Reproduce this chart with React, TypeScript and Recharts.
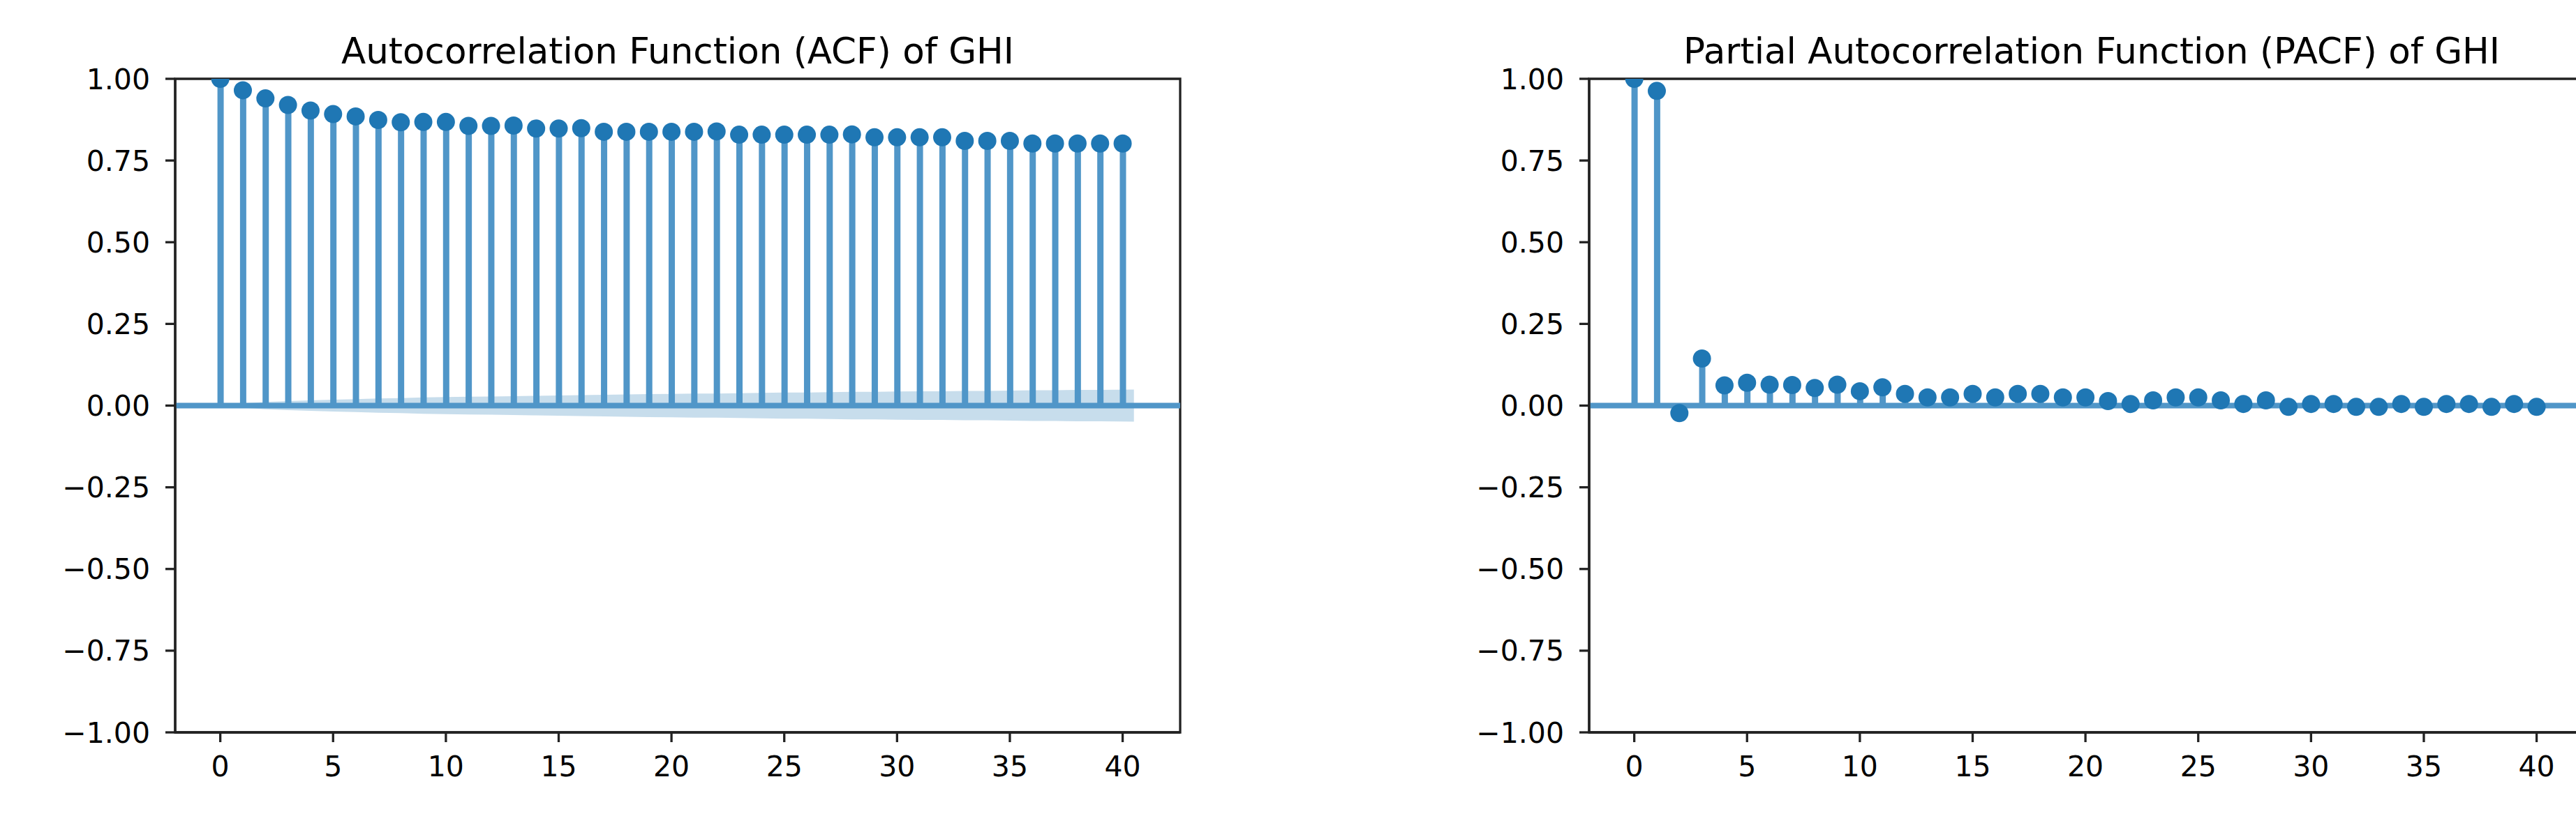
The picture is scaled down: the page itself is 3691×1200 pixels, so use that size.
import React from 'react';
import {
  ComposedChart,
  Bar,
  Scatter,
  Area,
  XAxis,
  YAxis,
  ReferenceLine,
  ReferenceArea,
} from 'recharts';

// ---------- data ----------
const LAGS = [
  0, 1, 2, 3, 4, 5, 6, 7, 8, 9, 10, 11, 12, 13, 14, 15, 16, 17, 18, 19, 20,
  21, 22, 23, 24, 25, 26, 27, 28, 29, 30, 31, 32, 33, 34, 35, 36, 37, 38, 39, 40,
];

const ACF_VALUES = [
  1.0, 0.965, 0.94, 0.92, 0.903, 0.892, 0.885, 0.874, 0.867, 0.868, 0.868,
  0.856, 0.856, 0.857, 0.848, 0.848, 0.849, 0.838, 0.838, 0.838, 0.838,
  0.838, 0.839, 0.829, 0.829, 0.829, 0.829, 0.829, 0.83, 0.821, 0.821,
  0.821, 0.821, 0.81, 0.81, 0.81, 0.802, 0.802, 0.802, 0.802, 0.802,
];

// half-width of the shaded 95% confidence band (ACF)
const ACF_CONF = [
  0.0, 0.0065, 0.011, 0.014, 0.016, 0.018, 0.02, 0.022, 0.023, 0.025, 0.026,
  0.027, 0.028, 0.029, 0.03, 0.031, 0.032, 0.033, 0.034, 0.035, 0.036,
  0.037, 0.037, 0.038, 0.039, 0.04, 0.04, 0.041, 0.042, 0.042, 0.043,
  0.044, 0.044, 0.045, 0.045, 0.046, 0.047, 0.047, 0.048, 0.048, 0.049,
];

const PACF_VALUES = [
  1.0, 0.963, -0.023, 0.144, 0.062, 0.07, 0.064, 0.063, 0.054, 0.064, 0.044,
  0.056, 0.036, 0.025, 0.025, 0.036, 0.025, 0.036, 0.036, 0.025, 0.025,
  0.014, 0.005, 0.016, 0.025, 0.025, 0.016, 0.005, 0.016, -0.004, 0.005,
  0.005, -0.004, -0.004, 0.005, -0.004, 0.005, 0.005, -0.004, 0.005, -0.004,
];

// half-width of the shaded 95% confidence band (PACF)
const PACF_CONF = [
  0.0, 0.0065, 0.0065, 0.0065, 0.0065, 0.0065, 0.0065, 0.0065, 0.0065, 0.0065,
  0.0065, 0.0065, 0.0065, 0.0065, 0.0065, 0.0065, 0.0065, 0.0065, 0.0065,
  0.0065, 0.0065, 0.0065, 0.0065, 0.0065, 0.0065, 0.0065, 0.0065, 0.0065,
  0.0065, 0.0065, 0.0065, 0.0065, 0.0065, 0.0065, 0.0065, 0.0065, 0.0065,
  0.0065, 0.0065, 0.0065, 0.0065,
];

const X_TICKS = [0, 5, 10, 15, 20, 25, 30, 35, 40];
const Y_TICKS = [-1, -0.75, -0.5, -0.25, 0, 0.25, 0.5, 0.75, 1];

const ACF_TITLE = 'Autocorrelation Function (ACF) of GHI';
const PACF_TITLE = 'Partial Autocorrelation Function (PACF) of GHI';

// ---------- styling ----------
const X_DOMAIN: [number, number] = [-2.0, 42.55];
const Y_DOMAIN: [number, number] = [-1, 1];
const C0 = '#1f77b4';
const STEM = '#5096c8';
const SPINE = '#222222';
const FONT = 'DejaVu Sans';

const CHART_W = 1800;
const CHART_H = 1200;
const MARGIN = { top: 113, right: 109, left: 0, bottom: 0 };
const Y_AXIS_W = 251;
const X_AXIS_H = 150;

const fmtY = (v: number) => (v < 0 ? '\u2212' : '') + Math.abs(v).toFixed(2);

function CorrPanel({ values, conf }: { values: number[]; conf: number[] }) {
  const points = LAGS.map((lag, i) => ({ lag, value: values[i] }));
  const last = LAGS.length - 1;
  const band = LAGS.map((lag, i) => ({
    lag: i === 0 ? lag - 0.5 : i === last ? lag + 0.5 : lag,
    band: [-conf[i], conf[i]],
  }));
  const tickStyle = { fontFamily: FONT, fontSize: 41, fill: '#000' };
  return (
    <ComposedChart
      width={CHART_W}
      height={CHART_H}
      data={points}
      margin={MARGIN}
      style={{ fontFamily: FONT }}
    >
      <XAxis
        dataKey="lag"
        type="number"
        domain={X_DOMAIN}
        allowDataOverflow
        ticks={X_TICKS}
        interval={0}
        height={X_AXIS_H}
        tick={tickStyle}
        tickSize={14}
        tickMargin={20}
        axisLine={{ stroke: SPINE, strokeWidth: 3.3 }}
        tickLine={{ stroke: SPINE, strokeWidth: 3.3 }}
      />
      <YAxis
        type="number"
        domain={Y_DOMAIN}
        allowDataOverflow
        ticks={Y_TICKS}
        interval={0}
        width={Y_AXIS_W}
        tick={tickStyle}
        tickFormatter={fmtY}
        tickSize={14}
        tickMargin={22}
        axisLine={{ stroke: SPINE, strokeWidth: 3.3 }}
        tickLine={{ stroke: SPINE, strokeWidth: 3.3 }}
      />
      <Area
        data={band}
        dataKey="band"
        type="linear"
        stroke="none"
        fill={C0}
        fillOpacity={0.25}
        isAnimationActive={false}
        activeDot={false}
        dot={false}
      />
      <ReferenceLine y={0} stroke={STEM} strokeWidth={8} />
      <Bar dataKey="value" barSize={9} fill={STEM} isAnimationActive={false} />
      <Scatter
        dataKey="value"
        fill={C0}
        isAnimationActive={false}
        shape={(p: any) => <circle cx={p.cx} cy={p.cy} r={13} fill={C0} />}
      />
      <ReferenceArea
        x1={X_DOMAIN[0]}
        x2={X_DOMAIN[1]}
        y1={Y_DOMAIN[0]}
        y2={Y_DOMAIN[1]}
        fill="none"
        fillOpacity={0}
        stroke={SPINE}
        strokeWidth={3.3}
      />
    </ComposedChart>
  );
}

const titleStyle = (left: number): React.CSSProperties => ({
  position: 'absolute',
  left,
  top: 48,
  width: 1440,
  textAlign: 'center',
  fontFamily: FONT,
  fontSize: 51.5,
  lineHeight: '50px',
  color: '#000',
  whiteSpace: 'nowrap',
});

export default function App() {
  const rightOffset = 2026;
  return (
    <div
      style={{
        position: 'absolute',
        left: 0,
        top: 0,
        width: 3691,
        height: 1200,
        overflow: 'hidden',
        background: '#fff',
      }}
    >
      <div style={{ position: 'absolute', left: 0, top: 0 }}>
        <CorrPanel values={ACF_VALUES} conf={ACF_CONF} />
      </div>
      <div style={{ position: 'absolute', left: rightOffset, top: 0 }}>
        <CorrPanel values={PACF_VALUES} conf={PACF_CONF} />
      </div>
      <div style={titleStyle(Y_AXIS_W)}>{ACF_TITLE}</div>
      <div style={titleStyle(rightOffset + Y_AXIS_W)}>{PACF_TITLE}</div>
    </div>
  );
}
